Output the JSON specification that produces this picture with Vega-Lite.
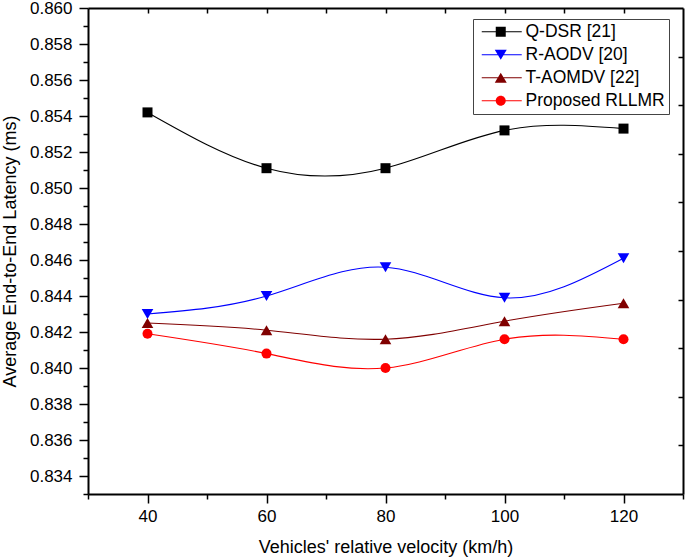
{
  "$schema": "https://vega.github.io/schema/vega-lite/v6.json",
  "width": 595,
  "height": 486,
  "autosize": {"type": "none"},
  "padding": {"left": 88, "top": 8, "right": 2, "bottom": 64},
  "background": "white",
  "config": {
    "font": "Liberation Sans",
    "view": {"stroke": null},
    "axis": {"domainColor": "black", "domainWidth": 2, "tickColor": "black", "tickWidth": 1.5, "grid": false, "labelColor": "black", "titleColor": "black", "labelFont": "Liberation Sans", "titleFont": "Liberation Sans", "labelFontSize": 17, "titleFontSize": 18, "titleFontWeight": "normal"}
  },
  "data": {
    "values": [
      {"v": 40, "lat": 0.8542, "s": "Q-DSR [21]"},
      {"v": 60, "lat": 0.8511, "s": "Q-DSR [21]"},
      {"v": 80, "lat": 0.8511, "s": "Q-DSR [21]"},
      {"v": 100, "lat": 0.8532, "s": "Q-DSR [21]"},
      {"v": 120, "lat": 0.8533, "s": "Q-DSR [21]"},
      {"v": 40, "lat": 0.8430, "s": "R-AODV [20]"},
      {"v": 60, "lat": 0.8440, "s": "R-AODV [20]"},
      {"v": 80, "lat": 0.8456, "s": "R-AODV [20]"},
      {"v": 100, "lat": 0.8439, "s": "R-AODV [20]"},
      {"v": 120, "lat": 0.8461, "s": "R-AODV [20]"},
      {"v": 40, "lat": 0.8425, "s": "T-AOMDV [22]"},
      {"v": 60, "lat": 0.8421, "s": "T-AOMDV [22]"},
      {"v": 80, "lat": 0.8416, "s": "T-AOMDV [22]"},
      {"v": 100, "lat": 0.8426, "s": "T-AOMDV [22]"},
      {"v": 120, "lat": 0.8436, "s": "T-AOMDV [22]"},
      {"v": 40, "lat": 0.8419, "s": "Proposed RLLMR"},
      {"v": 60, "lat": 0.8408, "s": "Proposed RLLMR"},
      {"v": 80, "lat": 0.8400, "s": "Proposed RLLMR"},
      {"v": 100, "lat": 0.8416, "s": "Proposed RLLMR"},
      {"v": 120, "lat": 0.8416, "s": "Proposed RLLMR"}
    ]
  },
  "resolve": {"axis": {"x": "independent", "y": "independent"}, "scale": {"color": "independent", "shape": "independent"}},
  "layer": [
    {
      "mark": {"type": "line", "interpolate": "natural", "strokeWidth": 1.1},
      "encoding": {
        "x": {"field": "v", "type": "quantitative", "scale": {"domain": [30, 130], "nice": false, "zero": false},
              "axis": {"orient": "bottom", "values": [40, 60, 80, 100, 120], "format": "d", "tickSize": 9, "labelPadding": 5, "title": "Vehicles' relative velocity (km/h)", "titlePadding": 14}},
        "y": {"field": "lat", "type": "quantitative", "scale": {"domain": [0.833, 0.86], "nice": false, "zero": false},
              "axis": {"orient": "left", "values": [0.834, 0.836, 0.838, 0.84, 0.842, 0.844, 0.846, 0.848, 0.85, 0.852, 0.854, 0.856, 0.858, 0.86], "format": ".3f", "tickSize": 9, "labelPadding": 7, "title": "Average End-to-End Latency (ms)", "titlePadding": 10}},
        "color": {"field": "s", "type": "nominal", "scale": {"domain": ["Q-DSR [21]", "R-AODV [20]", "T-AOMDV [22]", "Proposed RLLMR"], "range": ["#000000", "#0000ff", "#800000", "#ff0000"]}, "legend": null},
        "detail": {"field": "s"}
      }
    },
    {
      "mark": {"type": "point", "filled": true, "opacity": 1, "strokeWidth": 0},
      "encoding": {
        "x": {"field": "v", "type": "quantitative", "scale": {"domain": [30, 130], "nice": false, "zero": false},
              "axis": {"orient": "bottom", "values": [30, 50, 70, 90, 110, 130], "tickSize": 5, "labels": false, "domain": false, "title": null}},
        "y": {"field": "lat", "type": "quantitative", "scale": {"domain": [0.833, 0.86], "nice": false, "zero": false},
              "axis": {"orient": "left", "values": [0.833, 0.835, 0.837, 0.839, 0.841, 0.843, 0.845, 0.847, 0.849, 0.851, 0.853, 0.855, 0.857, 0.859], "tickSize": 5, "labels": false, "domain": false, "title": null}},
        "color": {"field": "s", "type": "nominal", "scale": {"domain": ["Q-DSR [21]", "R-AODV [20]", "T-AOMDV [22]", "Proposed RLLMR"], "range": ["#000000", "#0000ff", "#800000", "#ff0000"]}, "legend": null},
        "shape": {"field": "s", "type": "nominal", "scale": {"domain": ["Q-DSR [21]", "R-AODV [20]", "T-AOMDV [22]", "Proposed RLLMR"], "range": ["square", "triangle-down", "triangle-up", "circle"]}, "legend": null},
        "size": {"condition": {"test": "datum.s === 'R-AODV [20]' || datum.s === 'T-AOMDV [22]'", "value": 135}, "value": 100}
      }
    },
    {
      "mark": {"type": "point", "opacity": 0},
      "encoding": {
        "x": {"field": "v", "type": "quantitative", "scale": {"domain": [30, 130], "nice": false, "zero": false},
              "axis": {"orient": "top", "values": [40, 50, 60, 70, 80, 90, 100, 110, 120], "tickSize": -5, "labels": false, "title": null}},
        "y": {"field": "lat", "type": "quantitative", "scale": {"domain": [0.833, 0.86], "nice": false, "zero": false},
              "axis": {"orient": "right", "values": [0.8357, 0.8384, 0.8411, 0.8438, 0.8465, 0.8492, 0.8519, 0.8546, 0.8573], "tickSize": -5, "labels": false, "title": null}}
      }
    },
    {
      "transform": [{"filter": "datum.v > 1000"}],
      "mark": {"type": "point", "filled": true},
      "encoding": {
        "x": {"field": "v", "type": "quantitative", "scale": {"domain": [30, 130], "nice": false, "zero": false}, "axis": null},
        "y": {"field": "lat", "type": "quantitative", "scale": {"domain": [0.833, 0.86], "nice": false, "zero": false}, "axis": null},
        "color": {"field": "s", "type": "nominal", "scale": {"domain": ["Q-DSR [21]", "R-AODV [20]", "T-AOMDV [22]", "Proposed RLLMR"], "range": ["#000000", "#0000ff", "#800000", "#ff0000"]},
                  "legend": {"orient": "none", "legendX": 385, "legendY": 11, "title": null, "padding": 4, "strokeColor": "#444444", "fillColor": "white", "labelFontSize": 17.5, "labelFont": "Liberation Sans", "labelColor": "black", "labelOffset": 31, "rowPadding": 4, "symbolSize": 100, "symbolStrokeWidth": 0, "symbolOpacity": 1}},
        "shape": {"field": "s", "type": "nominal", "scale": {"domain": ["Q-DSR [21]", "R-AODV [20]", "T-AOMDV [22]", "Proposed RLLMR"],
                  "range": ["M-0.8,-0.1H7.2V0.1H-0.8Z M2,-1H4V1H2Z", "M-0.8,-0.1H7.2V0.1H-0.8Z M1.8,-1H4.2L3,1Z", "M-0.8,-0.1H7.2V0.1H-0.8Z M3,-1L4.2,1H1.8Z", "M-0.8,-0.1H7.2V0.1H-0.8Z M2,0A1,1 0 1,1 4,0A1,1 0 1,1 2,0Z"]},
                  "legend": {"orient": "none", "legendX": 385, "legendY": 11, "title": null, "padding": 4, "strokeColor": "#444444", "fillColor": "white", "labelFontSize": 17.5, "labelFont": "Liberation Sans", "labelColor": "black", "labelOffset": 31, "rowPadding": 4, "symbolSize": 100, "symbolStrokeWidth": 0, "symbolOpacity": 1}}
      }
    }
  ]
}
